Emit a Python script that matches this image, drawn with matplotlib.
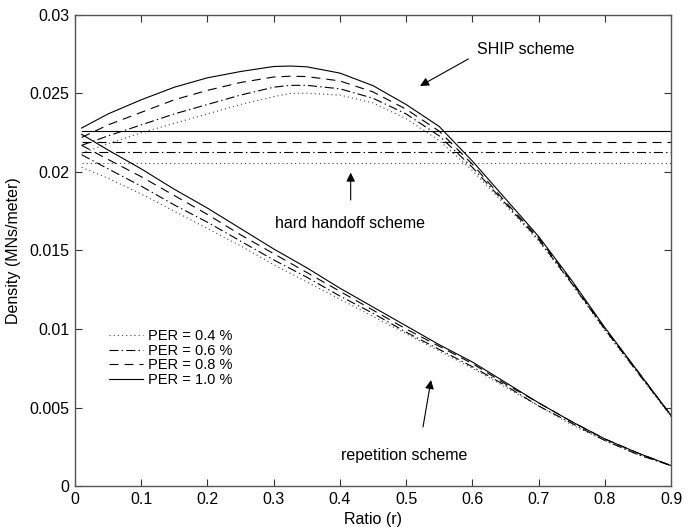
import matplotlib
matplotlib.use("Agg")
import matplotlib.pyplot as plt

plt.rcParams['font.family'] = ['Liberation Sans', 'DejaVu Sans']
plt.rcParams['lines.scale_dashes'] = False

# ---- data ----
ship_ratio = [0.01, 0.05, 0.10, 0.15, 0.20, 0.25, 0.30, 0.325, 0.35, 0.40, 0.45,
              0.50, 0.55, 0.60, 0.65, 0.70, 0.75, 0.80, 0.85, 0.90]
rep_ratio = [0.01, 0.05, 0.10, 0.15, 0.20, 0.25, 0.30, 0.35, 0.40, 0.45,
             0.50, 0.55, 0.60, 0.65, 0.70, 0.75, 0.80, 0.85, 0.90]

per_labels = ['PER = 0.4 %', 'PER = 0.6 %', 'PER = 0.8 %', 'PER = 1.0 %']

ship_04 = [0.0212, 0.0218, 0.0225, 0.0231, 0.0237, 0.0243, 0.0248, 0.0250, 0.02502, 0.0249, 0.0244,
           0.0234, 0.0220, 0.0201, 0.0179, 0.0156, 0.0129, 0.0099, 0.0072, 0.0044]
ship_06 = [0.0217, 0.0223, 0.0230, 0.0237, 0.0243, 0.0249, 0.0254, 0.02552, 0.02552, 0.0253, 0.0247,
           0.0237, 0.0223, 0.0203, 0.0180, 0.0157, 0.0129, 0.0100, 0.0072, 0.0045]
ship_08 = [0.0222, 0.0230, 0.0238, 0.0246, 0.0252, 0.0257, 0.02605, 0.0261, 0.02608, 0.0258, 0.0251,
           0.0240, 0.0226, 0.0205, 0.0181, 0.0158, 0.0130, 0.0100, 0.0073, 0.0045]
ship_10 = [0.0228, 0.0237, 0.0246, 0.0254, 0.0260, 0.0264, 0.02672, 0.02675, 0.0267, 0.0263, 0.0255,
           0.0243, 0.0229, 0.0207, 0.0183, 0.0159, 0.0131, 0.0101, 0.0073, 0.0045]

rep_04 = [0.0203, 0.0196, 0.0186, 0.0175, 0.0164, 0.0153, 0.0141, 0.0130, 0.0119, 0.0108,
          0.0097, 0.0086, 0.0075, 0.0063, 0.0051, 0.0039, 0.0029, 0.0020, 0.0013]
rep_06 = [0.0211, 0.0202, 0.0191, 0.0179, 0.0168, 0.0156, 0.0144, 0.0133, 0.0121, 0.0110,
          0.0098, 0.0087, 0.0076, 0.0064, 0.0051, 0.0040, 0.0029, 0.0020, 0.0013]
rep_08 = [0.0217, 0.0208, 0.0197, 0.0185, 0.0173, 0.0160, 0.0148, 0.0136, 0.0124, 0.0112,
          0.0100, 0.0089, 0.0078, 0.0065, 0.0053, 0.0041, 0.0030, 0.0021, 0.0013]
rep_10 = [0.0224, 0.0214, 0.0202, 0.0189, 0.0177, 0.0164, 0.0151, 0.0139, 0.0126, 0.0114,
          0.0102, 0.0090, 0.0079, 0.0066, 0.0053, 0.0041, 0.0030, 0.0021, 0.0013]

hard_handoff = [0.0206, 0.0213, 0.0219, 0.0226]   # PER 0.4, 0.6, 0.8, 1.0

x_ticks = [0, 0.1, 0.2, 0.3, 0.4, 0.5, 0.6, 0.7, 0.8, 0.9]
x_tick_labels = ['0', '0.1', '0.2', '0.3', '0.4', '0.5', '0.6', '0.7', '0.8', '0.9']
y_ticks = [0, 0.005, 0.01, 0.015, 0.02, 0.025, 0.03]
y_tick_labels = ['0', '0.005', '0.01', '0.015', '0.02', '0.025', '0.03']

# ---- styles ----
styles = [
    dict(linestyle=(0, (0.8, 2.2)), color='#444444'),          # dotted
    dict(linestyle=(0, (6.5, 2.3, 1.0, 2.3)), color='black'),  # dash-dot
    dict(linestyle=(0, (6.5, 4.3)), color='black'),            # dashed
    dict(linestyle='-', color='black'),                        # solid
]
lw = 0.8

fig = plt.figure(figsize=(6.88, 5.27), dpi=100)
ax = fig.add_axes([75/688, 1-486/527, 596/688, 471/527])

ship = [ship_04, ship_06, ship_08, ship_10]
rep = [rep_04, rep_06, rep_08, rep_10]
handles = []
for i in range(4):
    h, = ax.plot(ship_ratio, ship[i], lw=lw, **styles[i])
    ax.plot(rep_ratio, rep[i], lw=lw, **styles[i])
    ax.plot([rep_ratio[0], rep_ratio[-1]], [hard_handoff[i], hard_handoff[i]], lw=lw, **styles[i])
    handles.append(h)

ax.set_xlim(0, 0.9)
ax.set_ylim(0, 0.03)
ax.set_xticks(x_ticks)
ax.set_xticklabels(x_tick_labels)
ax.set_yticks(y_ticks)
ax.set_yticklabels(y_tick_labels)
ax.tick_params(direction='in', top=True, right=True, labelsize=11.5, length=5,
               width=0.8, color='#333333', pad=4)
for sp in ax.spines.values():
    sp.set_linewidth(1.0)
    sp.set_color('#555555')

ax.set_xlabel('Ratio (r)', fontsize=11.5, labelpad=4)
ax.set_ylabel('Density (MNs/meter)', fontsize=11.5, labelpad=6)

leg = ax.legend(handles, per_labels, loc='upper left', bbox_to_anchor=(0.04, 0.355),
                frameon=False, fontsize=10.5, handlelength=2.3, handletextpad=0.35,
                labelspacing=0.05, borderpad=0.2)

# annotations
arrow = dict(arrowstyle='-|>', color='black', lw=0.8, mutation_scale=13, shrinkA=0, shrinkB=0)

ax.text(0.68, 0.0278, 'SHIP scheme', fontsize=11.5, ha='center', va='center')
ax.annotate('', xy=(0.521, 0.02548), xytext=(0.594, 0.0272), arrowprops=arrow)

ax.text(0.416, 0.01669, 'hard handoff scheme', fontsize=11.5, ha='center', va='center')
ax.annotate('', xy=(0.4163, 0.01996), xytext=(0.4163, 0.01822), arrowprops=arrow)

ax.text(0.497, 0.00197, 'repetition scheme', fontsize=11.5, ha='center', va='center')
ax.annotate('', xy=(0.5376, 0.00675), xytext=(0.5255, 0.00376), arrowprops=arrow)

fig.savefig('out.png', dpi=100)
